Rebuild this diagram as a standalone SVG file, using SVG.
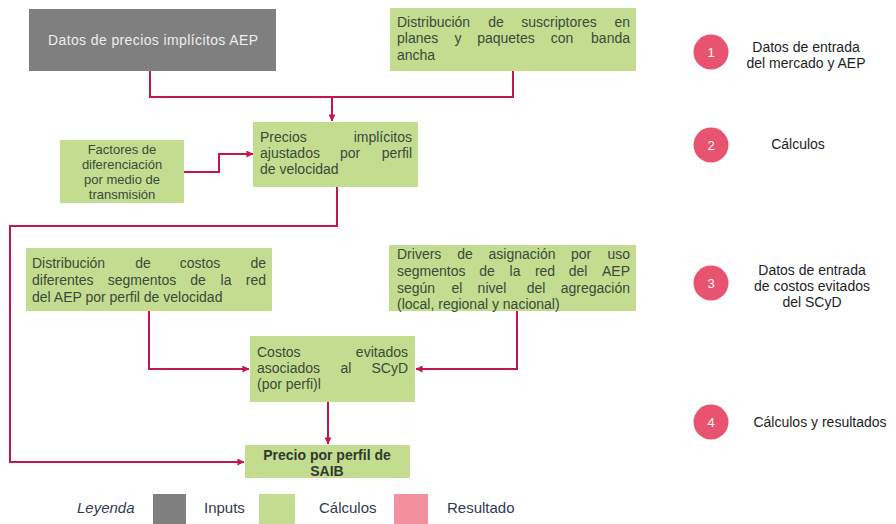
<svg xmlns="http://www.w3.org/2000/svg" width="896" height="524" viewBox="0 0 896 524">
<defs>
<marker id="arr" viewBox="0 0 8 8" refX="7.5" refY="4" markerWidth="7" markerHeight="7" markerUnits="userSpaceOnUse" orient="auto">
<path d="M0,0 L8,4 L0,8 z" fill="#c2174a"/>
</marker>
<style>
.in{fill:#7f7f7f}
.calc{fill:#c4dc90}
.res{fill:#f2909f}
.t{font-family:"Liberation Sans",Arial,sans-serif;font-size:14px;fill:#3b4a3b}
.tc{font-family:"Liberation Sans",Arial,sans-serif;font-size:13px;fill:#3b4a3b;text-anchor:middle}
.m{text-anchor:middle}
.e{text-anchor:end}
.b{font-weight:bold;fill:#2f3a2f;text-anchor:middle}
.lg{font-family:"Liberation Sans",Arial,sans-serif;font-size:15px;fill:#2f3a52}
.rl{font-family:"Liberation Sans",Arial,sans-serif;font-size:14px;fill:#1e1e1e;text-anchor:middle}
.num{font-family:"Liberation Sans",Arial,sans-serif;font-size:13px;fill:#fff;text-anchor:middle}
.dot{fill:#e8536f}
.c{fill:none;stroke:#c2174a;stroke-width:2}
</style>
</defs>
<rect width="896" height="524" fill="#fff"/>

<g id="connectors">
<path class="c" d="M150,71 V97 H332 V121" marker-end="url(#arr)"/>
<path class="c" d="M513,71 V97 H332"/>
<path class="c" d="M184,172 H219 V154 H253" marker-end="url(#arr)"/>
<path class="c" d="M337,187 V226 H10 V462 H244" marker-end="url(#arr)"/>
<path class="c" d="M149,311 V369 H249" marker-end="url(#arr)"/>
<path class="c" d="M517,311 V369 H416" marker-end="url(#arr)"/>
<path class="c" d="M328,402 V444" marker-end="url(#arr)"/>
</g>

<g id="n_datos_precios">
<rect class="in" x="29" y="9" width="247" height="62"/>
<text class="t m" x="153" y="45" style="fill:#ededed" textLength="210">Datos de precios implícitos AEP</text>
</g>

<g id="n_suscriptores">
<rect class="calc" x="390" y="8" width="246" height="63"/>
<text class="t" y="27"><tspan x="397">Distribución</tspan><tspan class="m" x="496">de</tspan><tspan class="m" x="559">suscriptores</tspan><tspan class="e" x="630">en</tspan></text>
<text class="t" y="43"><tspan x="397">planes</tspan><tspan class="m" x="458">y</tspan><tspan class="m" x="506">paquetes</tspan><tspan class="m" x="562">con</tspan><tspan class="e" x="630">banda</tspan></text>
<text class="t" x="397" y="60">ancha</text>
</g>

<g id="n_factores">
<rect class="calc" x="60" y="140" width="124" height="63"/>
<text class="tc" x="122" y="154">Factores de</text>
<text class="tc" x="122" y="169">diferenciación</text>
<text class="tc" x="122" y="184">por medio de</text>
<text class="tc" x="122" y="199">transmisión</text>
</g>

<g id="n_precios_ajustados">
<rect class="calc" x="253" y="122" width="165" height="65"/>
<text class="t" y="142"><tspan x="260">Precios</tspan><tspan class="e" x="412">implícitos</tspan></text>
<text class="t" y="158"><tspan x="260">ajustados</tspan><tspan class="m" x="350">por</tspan><tspan class="e" x="412">perfil</tspan></text>
<text class="t" x="260" y="174">de velocidad</text>
</g>

<g id="n_dist_costos">
<rect class="calc" x="26" y="248" width="246" height="63"/>
<text class="t" y="268"><tspan x="32">Distribución</tspan><tspan class="m" x="143">de</tspan><tspan class="m" x="200">costos</tspan><tspan class="e" x="266">de</tspan></text>
<text class="t" y="285"><tspan x="32">diferentes</tspan><tspan class="m" x="142">segmentos</tspan><tspan class="m" x="198">de</tspan><tspan class="m" x="226">la</tspan><tspan class="e" x="266">red</tspan></text>
<text class="t" x="32" y="302">del AEP por perfil de velocidad</text>
</g>

<g id="n_drivers">
<rect class="calc" x="389" y="245" width="247" height="66"/>
<text class="t" y="259"><tspan x="397">Drivers</tspan><tspan class="m" x="465">de</tspan><tspan class="m" x="522">asignación</tspan><tspan class="m" x="581">por</tspan><tspan class="e" x="630">uso</tspan></text>
<text class="t" y="276"><tspan x="397">segmentos</tspan><tspan class="m" x="487">de</tspan><tspan class="m" x="515">la</tspan><tspan class="m" x="545">red</tspan><tspan class="m" x="578">del</tspan><tspan class="e" x="630">AEP</tspan></text>
<text class="t" y="293"><tspan x="397">según</tspan><tspan class="m" x="457">el</tspan><tspan class="m" x="492">nivel</tspan><tspan class="m" x="536">del</tspan><tspan class="e" x="630">agregación</tspan></text>
<text class="t" x="397" y="309">(local, regional y nacional)</text>
</g>

<g id="n_costos_evitados">
<rect class="calc" x="250" y="336" width="165" height="66"/>
<text class="t" y="357"><tspan x="257">Costos</tspan><tspan class="e" x="408">evitados</tspan></text>
<text class="t" y="373"><tspan x="257">asociados</tspan><tspan class="m" x="346">al</tspan><tspan class="e" x="408">SCyD</tspan></text>
<text class="t" x="257" y="389">(por perfi)l</text>
</g>

<g id="n_precio_saib">
<rect class="calc" x="245" y="445" width="165" height="33"/>
<text class="t b" x="327" y="460">Precio por perfil de</text>
<text class="t b" x="327" y="476">SAIB</text>
</g>

<g id="legend">
<text class="lg" x="77" y="513" style="font-style:italic">Leyenda</text>
<rect class="in" x="153" y="494" width="33" height="30"/>
<text class="lg" x="204" y="513">Inputs</text>
<rect class="calc" x="259" y="494" width="36" height="30"/>
<text class="lg" x="319" y="513">Cálculos</text>
<rect class="res" x="394" y="494" width="34" height="30"/>
<text class="lg" x="447" y="513">Resultado</text>
</g>

<g id="step1">
<circle class="dot" cx="711" cy="52" r="17.5"/>
<text class="num" x="711" y="57">1</text>
<text class="rl" x="806" y="52">Datos de entrada</text>
<text class="rl" x="806" y="68">del mercado y AEP</text>
</g>
<g id="step2">
<circle class="dot" cx="711" cy="145" r="17.5"/>
<text class="num" x="711" y="150">2</text>
<text class="rl" x="798" y="149">Cálculos</text>
</g>
<g id="step3">
<circle class="dot" cx="711" cy="283" r="17.5"/>
<text class="num" x="711" y="288">3</text>
<text class="rl" x="812" y="275">Datos de entrada</text>
<text class="rl" x="812" y="291">de costos evitados</text>
<text class="rl" x="812" y="307">del SCyD</text>
</g>
<g id="step4">
<circle class="dot" cx="711" cy="422" r="17.5"/>
<text class="num" x="711" y="427">4</text>
<text class="rl" x="820" y="427">Cálculos y resultados</text>
</g>
</svg>
